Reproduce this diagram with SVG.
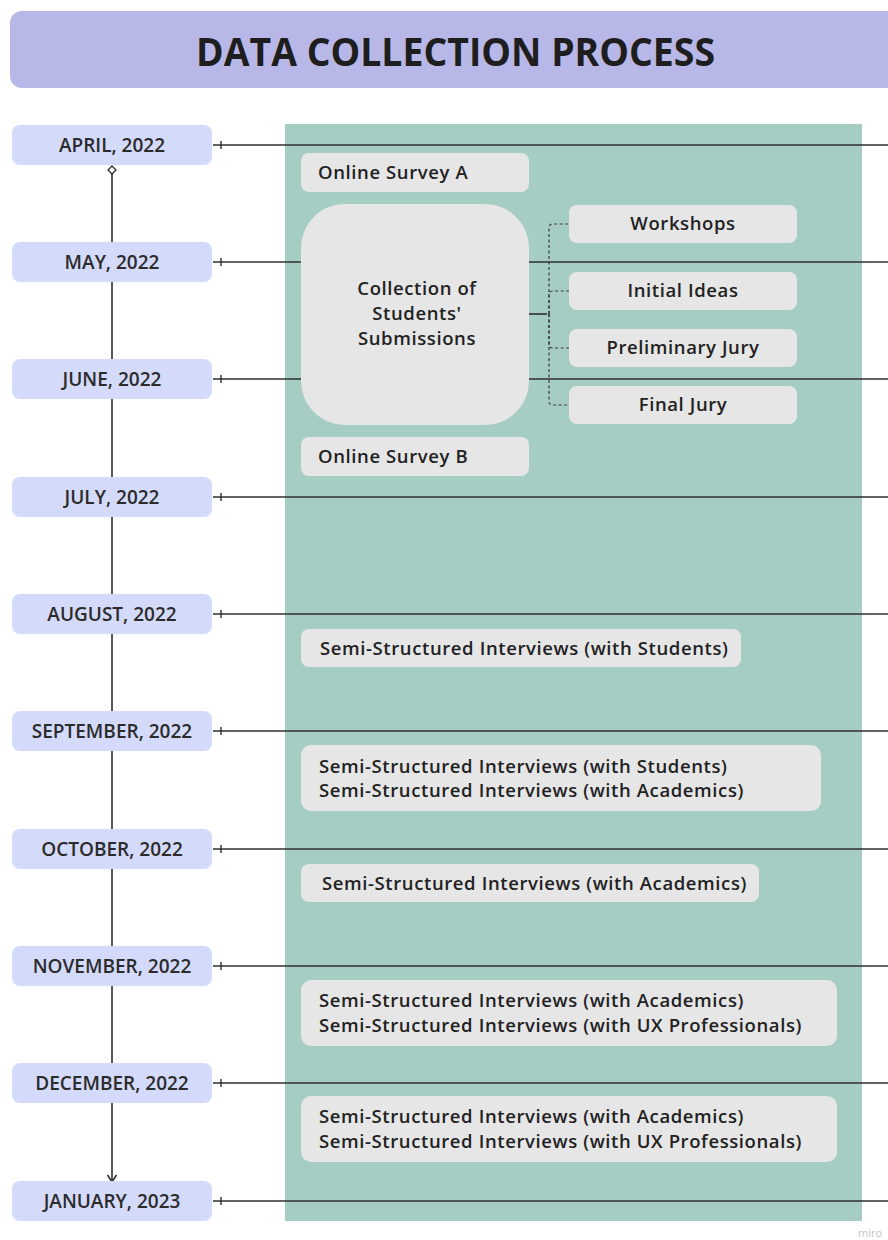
<svg xmlns="http://www.w3.org/2000/svg" width="888" height="1240" viewBox="0 0 888 1240">
  <style>
    .date rect { fill: #d4dafa; }
    .date text { font-family: "Open Sans", "Noto Sans", sans-serif; font-weight: 600; font-size: 19px; fill: #2b2b2b; text-anchor: middle; }
    .box rect { fill: #e6e6e6; }
    .box text { font-family: "Open Sans", "Noto Sans", sans-serif; font-weight: 600; font-size: 18.5px; letter-spacing: 0.6px; fill: #222; }
    .box text.c { text-anchor: middle; }
    .rule { stroke: #2e2e2e; stroke-width: 1.6; fill: none; }
    .tick { stroke: #2e2e2e; stroke-width: 1.4; }
    .dash { stroke: #3a3a3a; stroke-width: 1.2; fill: none; stroke-dasharray: 3 2.5; }
  </style>
  <defs>
    <marker id="diamond" viewBox="0 0 10 10" refX="5" refY="5" markerWidth="10" markerHeight="10" orient="auto" markerUnits="userSpaceOnUse">
      <path d="M1 5 L5 1 L9 5 L5 9 Z" fill="#fff" stroke="#2e2e2e" stroke-width="1.3"/>
    </marker>
    <marker id="arrow" viewBox="0 0 12 12" refX="10" refY="6" markerWidth="12" markerHeight="12" orient="auto" markerUnits="userSpaceOnUse">
      <path d="M3 1.5 L10 6 L3 10.5" fill="none" stroke="#2e2e2e" stroke-width="1.5"/>
    </marker>
  </defs>

  <rect width="888" height="1240" fill="#ffffff"/>

  <!-- title banner -->
  <g id="title">
    <rect x="10" y="11" width="900" height="77" rx="12" fill="#b8b8e8"/>
    <text x="196" y="66" font-family="Open Sans, Noto Sans, sans-serif" font-weight="700" font-size="40" fill="#1e1e1e" textLength="519" lengthAdjust="spacingAndGlyphs">DATA COLLECTION PROCESS</text>
  </g>

  <!-- activity panel -->
  <rect id="panel" x="285" y="124" width="577" height="1097" fill="#a6cdc4"/>

  <!-- connectors: timeline spine, month rules, sub-step bracket -->
  <g id="connectors">
    <line class="rule" x1="112" y1="170" x2="112" y2="1182" stroke-width="1.5" marker-start="url(#diamond)" marker-end="url(#arrow)"/>
    <g id="month-rules">
      <line class="rule" x1="213" y1="145" x2="888" y2="145"/>
      <line class="rule" x1="213" y1="262" x2="888" y2="262"/>
      <line class="rule" x1="213" y1="379" x2="888" y2="379"/>
      <line class="rule" x1="213" y1="497" x2="888" y2="497"/>
      <line class="rule" x1="213" y1="614" x2="888" y2="614"/>
      <line class="rule" x1="213" y1="731" x2="888" y2="731"/>
      <line class="rule" x1="213" y1="849" x2="888" y2="849"/>
      <line class="rule" x1="213" y1="966" x2="888" y2="966"/>
      <line class="rule" x1="213" y1="1083" x2="888" y2="1083"/>
      <line class="rule" x1="213" y1="1201" x2="888" y2="1201"/>
      <line class="tick" x1="221" y1="141" x2="221" y2="149"/>
      <line class="tick" x1="221" y1="258" x2="221" y2="266"/>
      <line class="tick" x1="221" y1="375" x2="221" y2="383"/>
      <line class="tick" x1="221" y1="493" x2="221" y2="501"/>
      <line class="tick" x1="221" y1="610" x2="221" y2="618"/>
      <line class="tick" x1="221" y1="727" x2="221" y2="735"/>
      <line class="tick" x1="221" y1="845" x2="221" y2="853"/>
      <line class="tick" x1="221" y1="962" x2="221" y2="970"/>
      <line class="tick" x1="221" y1="1079" x2="221" y2="1087"/>
      <line class="tick" x1="221" y1="1197" x2="221" y2="1205"/>
    </g>
  </g>

  <!-- month nodes -->
  <g id="apr-2022" class="date"><rect x="12" y="125" width="200" height="40" rx="8"/><text x="112" y="152">APRIL, 2022</text></g>
  <g id="may-2022" class="date"><rect x="12" y="242" width="200" height="40" rx="8"/><text x="112" y="269">MAY, 2022</text></g>
  <g id="jun-2022" class="date"><rect x="12" y="359" width="200" height="40" rx="8"/><text x="112" y="386">JUNE, 2022</text></g>
  <g id="jul-2022" class="date"><rect x="12" y="477" width="200" height="40" rx="8"/><text x="112" y="504">JULY, 2022</text></g>
  <g id="aug-2022" class="date"><rect x="12" y="594" width="200" height="40" rx="8"/><text x="112" y="621">AUGUST, 2022</text></g>
  <g id="sep-2022" class="date"><rect x="12" y="711" width="200" height="40" rx="8"/><text x="112" y="738">SEPTEMBER, 2022</text></g>
  <g id="oct-2022" class="date"><rect x="12" y="829" width="200" height="40" rx="8"/><text x="112" y="856">OCTOBER, 2022</text></g>
  <g id="nov-2022" class="date"><rect x="12" y="946" width="200" height="40" rx="8"/><text x="112" y="973">NOVEMBER, 2022</text></g>
  <g id="dec-2022" class="date"><rect x="12" y="1063" width="200" height="40" rx="8"/><text x="112" y="1090">DECEMBER, 2022</text></g>
  <g id="jan-2023" class="date"><rect x="12" y="1181" width="200" height="40" rx="8"/><text x="112" y="1208">JANUARY, 2023</text></g>

  <!-- activities -->
  <g id="survey-a" class="box"><rect x="301" y="153" width="228" height="39" rx="8"/><text x="318" y="179">Online Survey A</text></g>
  <g id="submissions" class="box">
    <rect x="301" y="204" width="228" height="221" rx="44"/>
    <text class="c" x="417" y="295">Collection of</text>
    <text class="c" x="417" y="320">Students'</text>
    <text class="c" x="417" y="345">Submissions</text>
  </g>

  <!-- bracket to submission stages -->
  <g id="stage-bracket">
    <line class="rule" x1="529" y1="314" x2="547" y2="314" stroke-width="1.4"/>
    <path class="dash" d="M549 314 V228 Q549 224 553 224 H569"/>
    <path class="dash" d="M549 314 V295 Q549 291 553 291 H569"/>
    <path class="dash" d="M549 314 V344 Q549 348 553 348 H569"/>
    <path class="dash" d="M549 314 V401 Q549 405 553 405 H569"/>
  </g>

  <g id="workshops" class="box"><rect x="569" y="205" width="228" height="38" rx="8"/><text class="c" x="683" y="230">Workshops</text></g>
  <g id="initial-ideas" class="box"><rect x="569" y="272" width="228" height="38" rx="8"/><text class="c" x="683" y="297">Initial Ideas</text></g>
  <g id="preliminary-jury" class="box"><rect x="569" y="329" width="228" height="38" rx="8"/><text class="c" x="683" y="354">Preliminary Jury</text></g>
  <g id="final-jury" class="box"><rect x="569" y="386" width="228" height="38" rx="8"/><text class="c" x="683" y="411">Final Jury</text></g>

  <g id="survey-b" class="box"><rect x="301" y="437" width="228" height="39" rx="8"/><text x="318" y="463">Online Survey B</text></g>

  <g id="interviews-aug" class="box"><rect x="301" y="629" width="440" height="38" rx="8"/><text x="320" y="655">Semi-Structured Interviews (with Students)</text></g>
  <g id="interviews-sep" class="box">
    <rect x="301" y="745" width="520" height="66" rx="10"/>
    <text x="319" y="773">Semi-Structured Interviews (with Students)</text>
    <text x="319" y="797">Semi-Structured Interviews (with Academics)</text>
  </g>
  <g id="interviews-oct" class="box"><rect x="301" y="864" width="458" height="38" rx="8"/><text x="322" y="890">Semi-Structured Interviews (with Academics)</text></g>
  <g id="interviews-nov" class="box">
    <rect x="301" y="980" width="536" height="66" rx="10"/>
    <text x="319" y="1007">Semi-Structured Interviews (with Academics)</text>
    <text x="319" y="1032">Semi-Structured Interviews (with UX Professionals)</text>
  </g>
  <g id="interviews-dec" class="box">
    <rect x="301" y="1096" width="536" height="66" rx="10"/>
    <text x="319" y="1123">Semi-Structured Interviews (with Academics)</text>
    <text x="319" y="1148">Semi-Structured Interviews (with UX Professionals)</text>
  </g>

  <text x="858" y="1237" font-family="Open Sans, sans-serif" font-size="11" fill="#c4c4c4">miro</text>
</svg>
